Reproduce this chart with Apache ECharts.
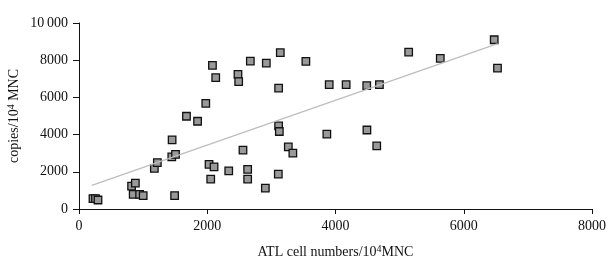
<!DOCTYPE html>
<html>
<head>
<meta charset="utf-8">
<script src="https://cdn.jsdelivr.net/npm/echarts@6/dist/echarts.min.js"></script>
<style>
  html, body { margin: 0; padding: 0; background: #fff; }
  #chart { width: 608px; height: 260px; }
</style>
</head>
<body>
<div id="chart"></div>
<script>
// ATL cell numbers (x) vs copies (y)
const cellNumbers = [
  218, 257, 296, 820, 879, 845, 945, 1001, 1175, 1222,
  1447, 1505, 1452, 1491, 1676, 1849, 1977, 2081, 2132, 2028,
  2106, 2054, 2335, 2479, 2490, 2557, 2630, 2630, 2672, 2906,
  2921, 3139, 3113, 3113, 3124, 3108, 3264, 3335, 3538, 3865,
  3902, 4166, 4487, 4685, 4490, 4643, 5141, 5634, 6475, 6526
];
const copies = [
  563, 563, 483, 1233, 1394, 788, 788, 724, 2188, 2493,
  2804, 2933, 3716, 724, 4987, 4719, 5684, 7721, 7062, 2397,
  2268, 1609, 2054, 7239, 6847, 3164, 2129, 1609, 7952, 1126,
  7845, 8402, 6504, 4466, 4166, 1877, 3340, 3003, 7936, 4022,
  6686, 6686, 6638, 6686, 4247, 3394, 8434, 8097, 9099, 7576
];

// regression line end points
const fitX = [200, 6530];
const fitY = [1270, 8890];

const xTicks = [0, 2000, 4000, 6000, 8000];
const yTicks = [0, 2000, 4000, 6000, 8000, 10000];

const font = '"Liberation Serif", "Times New Roman", serif';

const chart = echarts.init(document.getElementById('chart'));

const points = cellNumbers.map((x, i) => [x, copies[i]]);
const fitLine = fitX.map((x, i) => [x, fitY[i]]);

const supStyle = { fontSize: 10, fontFamily: font, color: '#111', padding: [0, 0, 7, 0] };

const option = {
    animation: false,
    grid: {
        left: 79,
        right: 16,
        top: 23,
        bottom: 51,
        containLabel: false,
        outerBoundsMode: 'none'
    },
    xAxis: {
        type: 'value',
        min: xTicks[0],
        max: xTicks[xTicks.length - 1],
        interval: 2000,
        name: 'ATL cell numbers/10{sup|4}MNC',
        nameLocation: 'middle',
        nameGap: 35,
        nameMoveOverlap: false,
        nameTextStyle: {
            fontFamily: font,
            fontSize: 14,
            color: '#111',
            rich: { sup: supStyle }
        },
        splitLine: { show: false },
        axisLine: { lineStyle: { color: '#111', width: 1 } },
        axisTick: { length: 5, lineStyle: { color: '#111' } },
        axisLabel: {
            fontFamily: font,
            fontSize: 14,
            color: '#111',
            margin: 10,
            formatter: v => String(v)
        }
    },
    yAxis: {
        type: 'value',
        min: yTicks[0],
        max: yTicks[yTicks.length - 1],
        interval: 2000,
        name: 'copies/10{sup|4} MNC',
        nameLocation: 'middle',
        nameGap: 56,
        nameMoveOverlap: false,
        nameTextStyle: {
            fontFamily: font,
            fontSize: 14,
            color: '#111',
            rich: { sup: supStyle }
        },
        splitLine: { show: false },
        axisLine: { show: true, lineStyle: { color: '#111', width: 1 } },
        axisTick: { show: true, length: 6, lineStyle: { color: '#111' } },
        axisLabel: {
            fontFamily: font,
            fontSize: 14,
            color: '#111',
            margin: 11,
            formatter: v => v >= 10000 ? '10\u2009000' : String(v)
        }
    },
    series: [
        {
            type: 'line',
            data: fitLine,
            symbol: 'none',
            silent: true,
            lineStyle: { color: '#bdbdbd', width: 1.2 }
        },
        {
            type: 'scatter',
            data: points,
            symbol: 'rect',
            symbolSize: 7.5,
            itemStyle: {
                color: '#999999',
                borderColor: '#111',
                borderWidth: 1.3,
                opacity: 1
            }
        }
    ]
};

chart.setOption(option);
</script>
</body>
</html>
